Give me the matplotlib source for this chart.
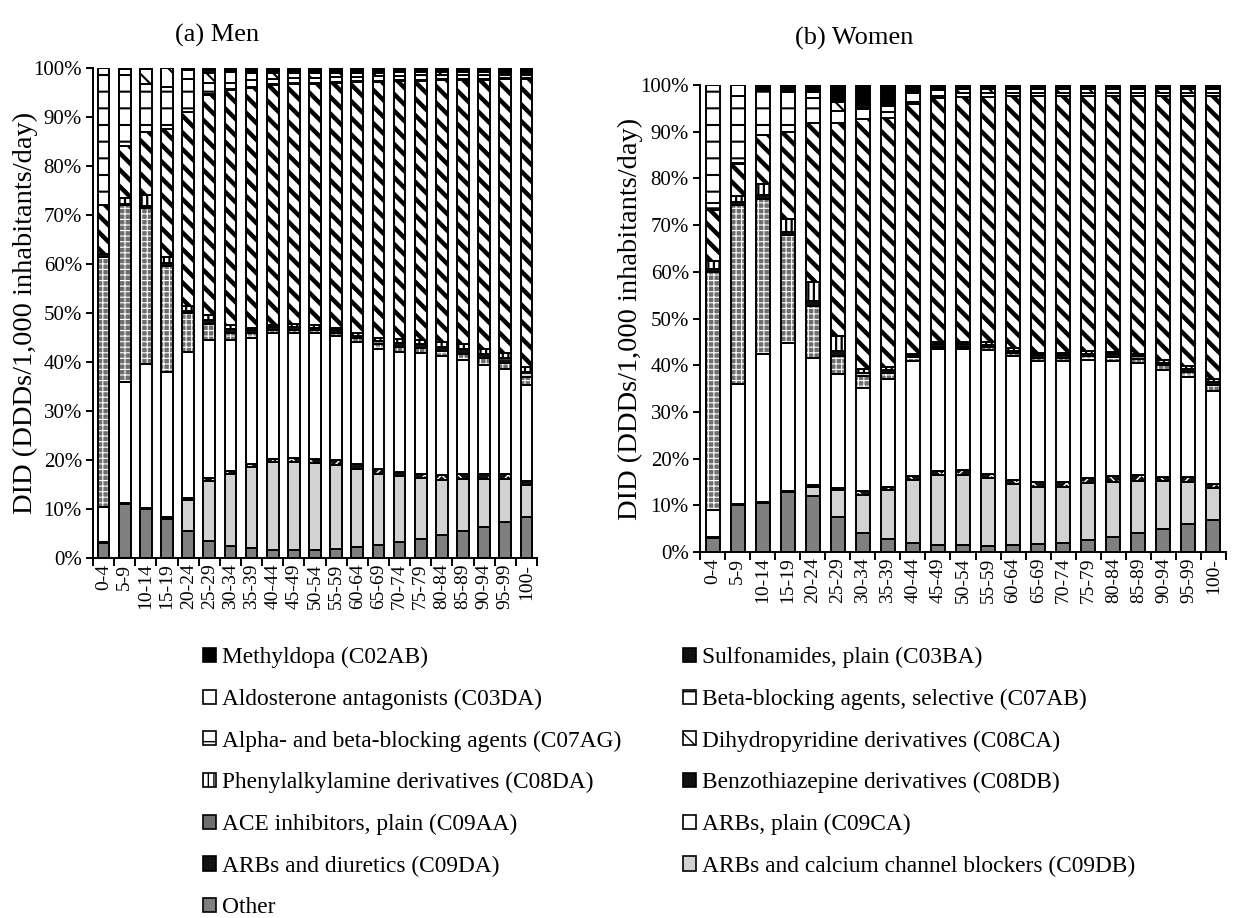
import numpy as np
import matplotlib
matplotlib.use("Agg")
import matplotlib.pyplot as plt
from matplotlib.patches import Patch
from matplotlib.ticker import FuncFormatter

plt.rcParams['font.family'] = ['Liberation Serif', 'DejaVu Serif']

ages = ['0-4', '5-9', '10-14', '15-19', '20-24', '25-29', '30-34', '35-39', '40-44',
        '45-49', '50-54', '55-59', '60-64', '65-69', '70-74', '75-79', '80-84',
        '85-89', '90-94', '95-99', '100-']

# series, bottom to top of the stack
labels = {
    'Other': 'Other',
    'C09DB': 'ARBs and calcium channel blockers (C09DB)',
    'C09DA': 'ARBs and diuretics (C09DA)',
    'C09CA': 'ARBs, plain (C09CA)',
    'C09AA': 'ACE inhibitors, plain (C09AA)',
    'C08DB': 'Benzothiazepine derivatives (C08DB)',
    'C08DA': 'Phenylalkylamine derivatives (C08DA)',
    'C08CA': 'Dihydropyridine derivatives (C08CA)',
    'C07AG': 'Alpha- and beta-blocking agents (C07AG)',
    'C07AB': 'Beta-blocking agents, selective (C07AB)',
    'C03DA': 'Aldosterone antagonists (C03DA)',
    'C03BA': 'Sulfonamides, plain (C03BA)',
    'C02AB': 'Methyldopa (C02AB)',
}
stack_order = ['Other', 'C09DB', 'C09DA', 'C09CA', 'C09AA', 'C08DB', 'C08DA',
               'C08CA', 'C07AG', 'C07AB', 'C03DA', 'C03BA', 'C02AB']

# ---- Men (% share) ----
men_other = [3.0, 11.0, 10.0, 8.0, 5.5, 3.5, 2.5, 2.0, 1.7, 1.6, 1.7, 1.8, 2.2, 2.6, 3.2, 3.9, 4.7, 5.5, 6.3, 7.3, 8.4]
men_c09db = [0, 0, 0, 0, 6.3, 12.2, 14.7, 16.5, 17.8, 18.0, 17.6, 17.1, 15.9, 14.6, 13.5, 12.4, 11.3, 10.6, 9.9, 8.9, 6.4]
men_c09da = [0.3, 0.3, 0.3, 0.4, 0.5, 0.6, 0.6, 0.7, 0.8, 0.9, 1.0, 1.0, 1.0, 1.0, 0.9, 0.9, 1.0, 1.0, 1.0, 1.0, 1.0]
men_c09ca = [7.2, 24.7, 29.2, 29.6, 29.7, 28.2, 26.7, 25.8, 25.7, 25.5, 25.7, 25.5, 25.0, 24.5, 24.4, 24.6, 24.3, 23.4, 22.2, 21.3, 19.5]
men_c09aa = [51.0, 36.0, 32.0, 21.5, 8.0, 3.3, 1.5, 1.0, 0.6, 0.6, 0.6, 0.6, 0.8, 1.0, 1.0, 1.0, 1.0, 1.2, 1.4, 1.3, 1.7]
men_c08db = [0.5, 0.3, 0.4, 0.8, 0.5, 0.8, 0.7, 0.5, 0.5, 0.5, 0.4, 0.5, 0.5, 0.6, 0.8, 0.8, 0.8, 0.9, 0.9, 1.0, 1.0]
men_c08da = [0, 1.2, 2.1, 1.2, 1.0, 0.9, 0.8, 0.5, 0.5, 0.6, 0.5, 0.5, 0.5, 0.7, 0.8, 0.8, 0.9, 1.0, 1.0, 1.1, 1.0]
men_c08ca = [10.0, 10.5, 13.0, 26.0, 39.5, 45.0, 48.0, 49.0, 48.9, 49.0, 49.3, 49.9, 51.2, 52.2, 52.7, 53.0, 53.5, 53.9, 54.9, 55.8, 58.8]
men_c07ag = [0, 0, 0, 0, 0, 0.2, 0.2, 0.2, 0.2, 0.2, 0.2, 0.2, 0.2, 0.2, 0.2, 0.2, 0.2, 0.2, 0.2, 0.2, 0.2]
men_c07ab = [28.0, 14.5, 9.8, 8.7, 6.8, 2.3, 1.3, 1.3, 1.1, 1.0, 1.0, 1.0, 0.9, 0.9, 0.9, 0.9, 0.8, 0.8, 0.8, 0.8, 0.7]
men_c03da = [0, 1.2, 2.9, 3.8, 1.8, 2.0, 2.1, 1.5, 1.1, 1.0, 1.0, 0.9, 0.8, 0.7, 0.7, 0.6, 0.6, 0.6, 0.5, 0.5, 0.5]
men_c03ba = [0, 0.3, 0.3, 0, 0.4, 0.5, 0.4, 0.4, 0.4, 0.4, 0.3, 0.3, 0.3, 0.3, 0.3, 0.3, 0.3, 0.3, 0.3, 0.3, 0.3]
men_c02ab = [0, 0, 0, 0, 0, 0.5, 0.5, 0.6, 0.7, 0.7, 0.7, 0.7, 0.7, 0.7, 0.6, 0.6, 0.6, 0.6, 0.6, 0.5, 0.5]

# ---- Women (% share) ----
women_other = [3.0, 10.0, 10.5, 12.8, 12.0, 7.5, 4.0, 2.7, 2.0, 1.5, 1.4, 1.2, 1.5, 1.7, 2.0, 2.5, 3.2, 4.0, 5.0, 6.0, 6.8]
women_c09db = [0, 0, 0, 0, 2.0, 5.8, 8.2, 10.6, 13.5, 15.0, 15.1, 14.6, 13.0, 12.3, 12.0, 12.3, 11.8, 11.3, 10.3, 9.0, 7.0]
women_c09da = [0.3, 0.3, 0.3, 0.3, 0.4, 0.4, 0.8, 0.7, 0.8, 0.8, 1.0, 0.9, 1.0, 1.0, 1.0, 1.0, 1.2, 1.2, 0.7, 1.0, 0.7]
women_c09ca = [5.7, 25.7, 31.6, 31.6, 27.1, 24.4, 22.1, 23.0, 24.7, 26.2, 26.0, 26.6, 26.5, 26.0, 26.0, 25.4, 24.8, 24.0, 23.0, 21.5, 20.0]
women_c09aa = [51.0, 38.4, 33.2, 23.1, 11.2, 3.8, 2.6, 1.3, 0.7, 0.5, 0.5, 0.6, 0.6, 0.6, 0.6, 0.8, 0.8, 0.9, 1.0, 1.1, 1.3]
women_c08db = [0.5, 0.6, 0.8, 0.8, 1.0, 1.2, 0.7, 0.6, 0.4, 0.5, 0.5, 0.5, 0.5, 0.5, 0.5, 0.5, 0.5, 0.5, 0.5, 0.5, 0.5]
women_c08da = [1.9, 1.2, 2.5, 2.8, 4.2, 3.2, 0.8, 0.7, 0.4, 0.5, 0.5, 0.6, 0.6, 0.6, 0.6, 0.6, 0.6, 0.6, 0.6, 0.7, 0.7]
women_c08ca = [10.8, 6.8, 10.4, 18.6, 33.9, 45.5, 53.5, 53.4, 53.5, 52.2, 52.5, 52.5, 53.9, 54.9, 54.9, 54.5, 54.7, 55.1, 56.5, 57.8, 60.6]
women_c07ag = [1.5, 0.3, 0, 0, 0, 0, 0, 0, 0, 0, 0, 0, 0, 0, 0, 0, 0, 0, 0, 0, 0]
women_c07ab = [25.3, 14.3, 9.5, 8.5, 5.5, 2.6, 2.1, 1.3, 0.4, 0.5, 0.7, 0.7, 0.6, 0.6, 0.6, 0.6, 0.6, 0.6, 0.6, 0.6, 0.6]
women_c03da = [0, 2.4, 0, 0, 1.2, 1.9, 0.3, 1.3, 1.9, 1.3, 0.9, 0.9, 0.9, 0.9, 0.9, 0.9, 0.9, 0.9, 0.9, 0.9, 0.9]
women_c03ba = [0, 0, 0.4, 0.5, 0, 0, 0.7, 0.4, 0, 0.3, 0.3, 0.3, 0.3, 0.3, 0.3, 0.3, 0.3, 0.3, 0.3, 0.3, 0.3]
women_c02ab = [0, 0, 0.8, 1.0, 1.5, 3.7, 4.2, 4.0, 1.7, 0.7, 0.6, 0.6, 0.6, 0.6, 0.6, 0.6, 0.6, 0.6, 0.6, 0.6, 0.6]

men = [men_other, men_c09db, men_c09da, men_c09ca, men_c09aa, men_c08db, men_c08da,
       men_c08ca, men_c07ag, men_c07ab, men_c03da, men_c03ba, men_c02ab]
women = [women_other, women_c09db, women_c09da, women_c09ca, women_c09aa, women_c08db,
         women_c08da, women_c08ca, women_c07ag, women_c07ab, women_c03da, women_c03ba,
         women_c02ab]

# visual styles: facecolor, hatch, hatch colour, hatch linewidth
styles = {
    'Other': ('#7f7f7f', None, 'black', 1.0),
    'C09DB': ('#d2d2d2', None, 'black', 1.0),
    'C09DA': ('#111111', 'xx', 'white', 1.0),
    'C09CA': ('white', None, 'black', 1.0),
    'C09AA': ('#6e6e6e', '+++', 'white', 0.8),
    'C08DB': ('#111111', '-', 'white', 1.2),
    'C08DA': ('white', '|||', 'black', 1.6),
    'C08CA': ('white', '\\\\', 'black', 3.2),
    'C07AG': ('white', '-', 'black', 1.5),
    'C07AB': ('white', '-', 'black', 1.5),
    'C03DA': ('white', '\\', 'black', 1.5),
    'C03BA': ('#111111', '-', 'white', 1.2),
    'C02AB': ('black', None, 'black', 1.0),
}

W, H = 1252, 918
fig = plt.figure(figsize=(W / 100, H / 100), dpi=100)


def frac(l, t, r, b):
    return [l / W, 1 - b / H, (r - l) / W, (b - t) / H]


ax_m = fig.add_axes(frac(93, 68, 537, 558))
ax_w = fig.add_axes(frac(700, 85, 1226, 552))


def draw(ax, data, ylab_x):
    vals = np.array(data, dtype=float)
    pct = vals / vals.sum(axis=0) * 100.0
    x = np.arange(len(ages))
    bottom = np.zeros(len(ages))
    width = 0.56
    for i, key in enumerate(stack_order):
        fc, hatch, hc, hlw = styles[key]
        with plt.rc_context({'hatch.linewidth': hlw}):
            bars = ax.bar(x, pct[i], width, bottom=bottom, color=fc,
                          edgecolor=hc, hatch=hatch, linewidth=0)
        for p in bars:
            if hasattr(p, 'set_hatch_linewidth'):
                p.set_hatch_linewidth(hlw)
        ax.bar(x, pct[i], width, bottom=bottom, fill=False,
               edgecolor='black', linewidth=1.4)
        bottom += pct[i]
    ax.set_xlim(-0.5, len(ages) - 0.5)
    ax.set_ylim(0, 100)
    ax.set_yticks(np.arange(0, 101, 10))
    ax.yaxis.set_major_formatter(FuncFormatter(lambda v, p: f'{int(round(v))}%'))
    ax.set_xticks(np.arange(-0.5, len(ages), 1.0))
    ax.set_xticklabels([])
    ax.set_xticks(x, minor=True)
    ax.set_xticklabels(ages, minor=True, rotation=90)
    ax.tick_params(axis='x', which='major', length=6, width=1.4, direction='out')
    ax.tick_params(axis='x', which='minor', length=0, labelsize=14, pad=4)
    ax.tick_params(axis='y', length=5, width=1.4, direction='out', labelsize=15, pad=3)
    for s in ('top', 'right'):
        ax.spines[s].set_visible(False)
    for s in ('left', 'bottom'):
        ax.spines[s].set_linewidth(1.4)
    ax.text(ylab_x, 0.5, 'DID (DDDs/1,000 inhabitants/day)', transform=ax.transAxes,
            rotation=90, ha='center', va='center', fontsize=20.5)


draw(ax_m, men, (25 - 93) / 444)
draw(ax_w, women, (630 - 700) / 526)

fig.text(175 / W, 1 - 35 / H, '(a) Men', fontsize=19, ha='left', va='center')
fig.text(795 / W, 1 - 38 / H, '(b) Women', fontsize=19, ha='left', va='center')

# legend, row-wise (Excel order), two columns
legend_keys = ['C02AB', 'C03BA', 'C03DA', 'C07AB', 'C07AG', 'C08CA', 'C08DA',
               'C08DB', 'C09AA', 'C09CA', 'C09DA', 'C09DB', 'Other']
left_col = legend_keys[0::2]
right_col = legend_keys[1::2]


def handle(key):
    fc, hatch, hc, hlw = styles[key]
    h = hatch
    if hc == 'white' and hatch is not None:
        h = None
    return Patch(facecolor=fc, edgecolor='black', hatch=h, linewidth=1.2)


with plt.rc_context({'hatch.linewidth': 1.0}):
    for col, xpos in ((left_col, 203), (right_col, 683)):
        fig.legend([handle(k) for k in col], [labels[k] for k in col],
                   loc='upper left', bbox_to_anchor=(xpos / W, 1 - 647 / H),
                   frameon=False, fontsize=16.8, handlelength=0.55,
                   handleheight=0.55, handletextpad=0.25, labelspacing=0.88,
                   borderaxespad=0, borderpad=0)

fig.savefig('out.png', dpi=100)
